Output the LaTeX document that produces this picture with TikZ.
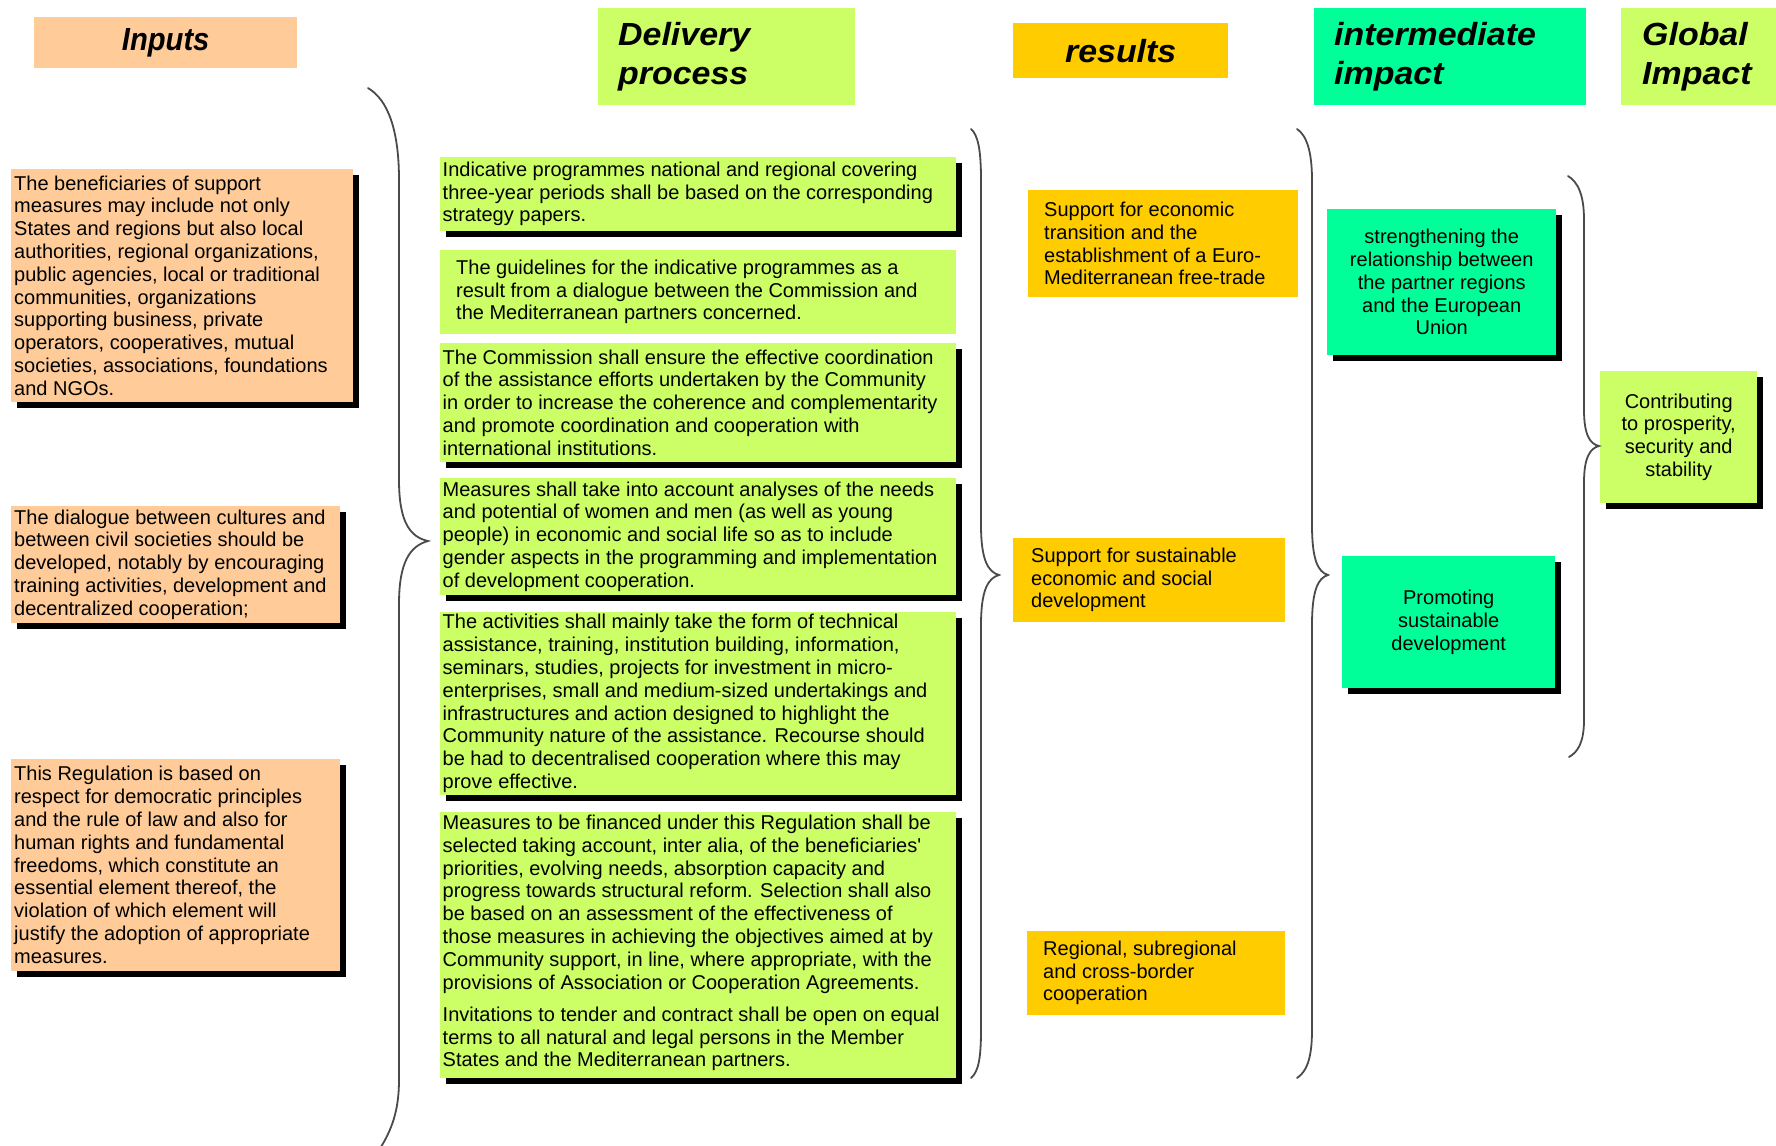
\documentclass[tikz,border=0pt]{standalone}
\usepackage{fontspec}
\setmainfont{Liberation Sans}
\newfontfamily\headfont[FakeStretch=1.06]{Liberation Sans}
\usetikzlibrary{shadows}
\definecolor{peach}{HTML}{FFCC99}
\definecolor{lime}{HTML}{CCFF66}
\definecolor{gold}{HTML}{FFCC00}
\definecolor{spring}{HTML}{00FF99}
\definecolor{bracegray}{HTML}{4A4A4A}
\tikzset{
  box/.style={anchor=north west, inner sep=0pt, outer sep=0pt, draw=none},
  shad/.style={drop shadow={shadow xshift=5.5pt, shadow yshift=-5.5pt, fill=black, opacity=1}},
  body/.style={font=\fontsize{20}{22.8}\selectfont, inner sep=0pt, align=left, anchor=west},
  bodyc/.style={font=\fontsize{20}{22.8}\selectfont, inner sep=0pt, align=center, anchor=north west},
  head/.style={font=\headfont\fontsize{32}{39.5}\selectfont\bfseries\itshape, inner ysep=0pt, anchor=north west},
  bracestyle/.style={draw=bracegray, line width=1.8pt, line cap=round},
}
\begin{document}
\begin{tikzpicture}[x=1pt,y=-1pt]
\useasboundingbox (0,0) rectangle (1776,1145);
\clip (0,0) rectangle (1776,1145);

% ---------- headers ----------
\node[head, fill=peach, minimum width=263pt, minimum height=51pt, inner xsep=0pt, align=center] (hin) at (34,17) {\scalebox{0.86}[1]{Inputs}};
\node[head, fill=lime, minimum height=97pt, inner xsep=20pt, text width=217pt, align=left] (hdel) at (598,8) {Delivery\\process};
\node[head, fill=gold, minimum width=215pt, minimum height=55pt, inner xsep=0pt, align=center] (hres) at (1013,23) {results};
\node[head, fill=spring, minimum height=97pt, inner xsep=20pt, text width=232pt, align=left] (hint) at (1314,8) {intermediate\\impact};
\node[head, fill=lime, minimum height=97pt, inner xsep=21pt, text width=120pt, align=left] (hglo) at (1621,8) {Global\\Impact};

% ---------- inputs ----------
\node[box, fill=peach, shad, minimum width=342pt, minimum height=233pt] (in1) at (11,169) {};
\node[body] (in1t) at ([xshift=3pt]in1.west) {The beneficiaries of support\\measures may include not only\\States and regions but also local\\authorities, regional organizations,\\public agencies, local or traditional\\communities, organizations\\supporting business, private\\operators, cooperatives, mutual\\societies, associations, foundations\\and NGOs.};

\node[box, fill=peach, shad, minimum width=329pt, minimum height=117pt] (in2) at (11,506) {};
\node[body] (in2t) at ([xshift=3pt]in2.west) {The dialogue between cultures and\\between civil societies should be\\developed, notably by encouraging\\training activities, development and\\decentralized cooperation;};

\node[box, fill=peach, shad, minimum width=329pt, minimum height=212pt] (in3) at (11,759) {};
\node[body] (in3t) at ([xshift=3pt]in3.west) {This Regulation is based on\\respect for democratic principles\\and the rule of law and also for\\human rights and fundamental\\freedoms, which constitute an\\essential element thereof, the\\violation of which element will\\justify the adoption of appropriate\\measures.};

% ---------- delivery process ----------
\node[box, fill=lime, shad, minimum width=516pt, minimum height=74pt] (d1) at (440,157) {};
\node[body] (d1t) at ([xshift=2.5pt]d1.west) {Indicative programmes national and regional covering\\three-year periods shall be based on the corresponding\\strategy papers.};

\node[box, fill=lime, minimum width=516pt, minimum height=84pt] (d2) at (440,250) {};
\node[body] (d2t) at ([xshift=16pt]d2.west) {The guidelines for the indicative programmes as a\\result from a dialogue between the Commission and\\the Mediterranean partners concerned.};

\node[box, fill=lime, shad, minimum width=516pt, minimum height=119pt] (d3) at (440,343) {};
\node[body] (d3t) at ([xshift=2.5pt]d3.west) {The Commission shall ensure the effective coordination\\of the assistance efforts undertaken by the Community\\in order to increase the coherence and complementarity\\and promote coordination and cooperation with\\international institutions.};

\node[box, fill=lime, shad, minimum width=516pt, minimum height=117pt] (d4) at (440,478) {};
\node[body] (d4t) at ([xshift=2.5pt]d4.west) {Measures shall take into account analyses of the needs\\and potential of women and men (as well as young\\people) in economic and social life so as to include\\gender aspects in the programming and implementation\\of development cooperation.};

\node[box, fill=lime, shad, minimum width=516pt, minimum height=183pt] (d5) at (440,612) {};
\node[body] (d5t) at ([xshift=2.5pt]d5.west) {The activities shall mainly take the form of technical\\assistance, training, institution building, information,\\seminars, studies, projects for investment in micro-\\enterprises, small and medium-sized undertakings and\\infrastructures and action designed to highlight the\\Community nature of the assistance. Recourse should\\be had to decentralised cooperation where this may\\prove effective.};

\node[box, fill=lime, shad, minimum width=516pt, minimum height=266pt] (d6) at (440,812) {};
\node[body] (d6t) at ([xshift=2.5pt,yshift=2pt]d6.west) {Measures to be financed under this Regulation shall be\\selected taking account, inter alia, of the beneficiaries\textquotesingle\\priorities, evolving needs, absorption capacity and\\progress towards structural reform. Selection shall also\\be based on an assessment of the effectiveness of\\those measures in achieving the objectives aimed at by\\Community support, in line, where appropriate, with the\\provisions of Association or Cooperation Agreements.\\[9.5pt]Invitations to tender and contract shall be open on equal\\terms to all natural and legal persons in the Member\\States and the Mediterranean partners.};

% ---------- results ----------
\node[box, fill=gold, minimum width=270pt, minimum height=107pt] (r1) at (1028,190) {};
\node[body] (r1t) at ([xshift=16pt]r1.west) {Support for economic\\transition and the\\establishment of a Euro-\\Mediterranean free-trade};

\node[box, fill=gold, minimum width=272pt, minimum height=84pt] (r2) at (1013,538) {};
\node[body] (r2t) at ([xshift=18pt]r2.west) {Support for sustainable\\economic and social\\development};

\node[box, fill=gold, minimum width=258pt, minimum height=84pt] (r3) at (1027,931) {};
\node[body] (r3t) at ([xshift=16pt]r3.west) {Regional, subregional\\and cross-border\\cooperation};

% ---------- intermediate impact ----------
\node[bodyc, fill=spring, shad, minimum width=229pt, minimum height=146pt] (i1) at (1327,209) {strengthening the\\relationship between\\the partner regions\\and the European\\Union};
\node[bodyc, fill=spring, shad, minimum width=213pt, minimum height=132pt] (i2) at (1342,556) {Promoting\\sustainable\\development};

% ---------- global impact ----------
\node[bodyc, fill=lime, shad, minimum width=157pt, minimum height=132pt] (g1) at (1600,371) {Contributing\\to prosperity,\\security and\\stability};

% ---------- braces ----------
\draw[bracestyle] (368,88) .. controls (388,100) and (399,130) .. (399,180) -- (399,480)
  .. controls (399,522) and (410,537) .. (428,541)
  .. controls (410,546) and (399,562) .. (399,604) -- (399,1080)
  .. controls (399,1110) and (392,1130) .. (379,1150);
\draw[bracestyle] (971,129) .. controls (978,135) and (981,150) .. (981,180) -- (981,525)
  .. controls (981,560) and (988,572) .. (999,575)
  .. controls (988,578) and (981,590) .. (981,625) -- (981,1030)
  .. controls (981,1060) and (978,1072) .. (971,1078);
\draw[bracestyle] (1297,129) .. controls (1306,135) and (1312,150) .. (1312,180) -- (1312,525)
  .. controls (1312,560) and (1318,572) .. (1328,575)
  .. controls (1318,578) and (1312,590) .. (1312,625) -- (1312,1030)
  .. controls (1312,1060) and (1306,1072) .. (1297,1078);
\draw[bracestyle] (1568,176) .. controls (1578,182) and (1584,195) .. (1584,220) -- (1584,410)
  .. controls (1584,435) and (1590,444) .. (1599,446)
  .. controls (1590,448) and (1584,458) .. (1584,482) -- (1584,720)
  .. controls (1584,742) and (1578,752) .. (1569,757);
\end{tikzpicture}
\end{document}
